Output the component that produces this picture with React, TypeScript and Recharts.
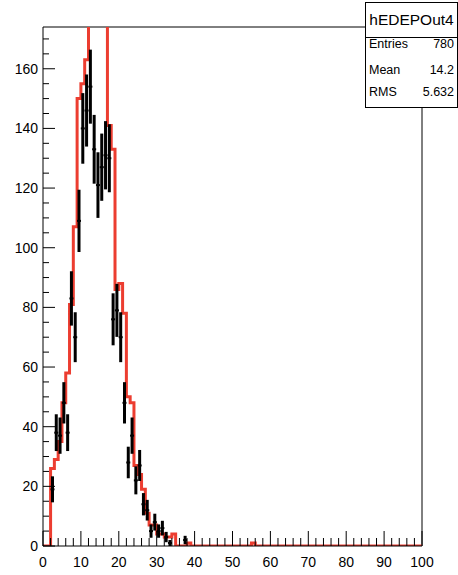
import {
  ComposedChart,
  Line,
  Scatter,
  ErrorBar,
  XAxis,
  YAxis,
  ReferenceLine,
} from "recharts";

// bin contents, 100 bins of width 1 from 0 to 100
const mcCounts = [
  0, 0, 26, 29, 35, 48, 58, 81, 107, 150,
  155, 163, 182, 196, 190, 186, 179, 141, 133, 86,
  88, 78, 50, 48, 27, 24, 19, 11, 7, 7,
  4, 4, 3, 3, 4, 0, 0, 0, 1, 0,
  0, 0, 0, 0, 0, 0, 0, 0, 0, 0,
  0, 0, 0, 0, 0, 1, 0, 0, 0, 0,
  0, 0, 0, 0, 0, 0, 0, 0, 0, 0,
  0, 0, 0, 0, 0, 0, 0, 0, 0, 0,
  0, 0, 0, 0, 0, 0, 0, 0, 0, 0,
  0, 0, 0, 0, 0, 0, 0, 0, 0, 0,
];

const dataCounts = [
  0, 0, 19, 38, 37, 48, 38, 83, 70, 109,
  140, 146, 154, 133, 121, 127, 131, 130, 76, 79,
  70, 48, 28, 37, 22, 27, 14, 12, 5, 8,
  5, 6, 3, 1, 0, 0, 0, 2, 0, 0,
  0, 0, 0, 0, 0, 0, 0, 0, 0, 0,
  0, 0, 0, 0, 0, 0, 0, 0, 0, 0,
  0, 0, 0, 0, 0, 0, 0, 0, 0, 0,
  0, 0, 0, 0, 0, 0, 0, 0, 0, 0,
  0, 0, 0, 0, 0, 0, 0, 0, 0, 0,
  0, 0, 0, 0, 0, 0, 0, 0, 0, 0,
];

const xTicks = [
  0, 2, 4, 6, 8, 10, 12, 14, 16, 18, 20, 22, 24, 26, 28, 30, 32, 34, 36, 38,
  40, 42, 44, 46, 48, 50, 52, 54, 56, 58, 60, 62, 64, 66, 68, 70, 72, 74, 76,
  78, 80, 82, 84, 86, 88, 90, 92, 94, 96, 98, 100,
];
const yTicks = [
  0, 5, 10, 15, 20, 25, 30, 35, 40, 45, 50, 55, 60, 65, 70, 75, 80, 85, 90,
  95, 100, 105, 110, 115, 120, 125, 130, 135, 140, 145, 150, 155, 160, 165, 170,
];

const statsTitle = "hEDEPOut4";
const statsRows = [
  ["Entries", "780"],
  ["Mean", "14.2"],
  ["RMS", "5.632"],
];

const RED = "#ec3d30";
const FONT = '"Liberation Sans", Arial, Helvetica, sans-serif';

// step outline: one point per lower bin edge, plus the closing edge at 100
const mcPoints = mcCounts
  .map((v, i) => ({ x: i, mc: v }))
  .concat([{ x: 100, mc: mcCounts[mcCounts.length - 1] }]);

// data points at bin centres, poisson errors
const dataPoints = dataCounts
  .map((v, i) => ({ x: i + 0.5, y: v, err: Math.sqrt(v) }))
  .filter((p) => p.y > 0);

function YTick(props: any) {
  const { x, y, payload } = props;
  const v = payload.value;
  const major = v % 20 === 0;
  const ax = x + 5;
  return (
    <g>
      <line x1={ax} x2={ax + (major ? 12 : 6)} y1={y} y2={y} stroke="#000" strokeWidth={1} />
      {major && (
        <text x={x} y={y} dy={5} textAnchor="end" fontSize={14} fontFamily={FONT} fill="#000">
          {v}
        </text>
      )}
    </g>
  );
}

function XTick(props: any) {
  const { x, y, payload } = props;
  const v = payload.value;
  const major = v % 10 === 0;
  const ay = y - 4;
  return (
    <g>
      <line x1={x} x2={x} y1={ay} y2={ay - (major ? 15 : 8)} stroke="#000" strokeWidth={1} />
      {major && (
        <text x={x} y={ay + 21} textAnchor="middle" fontSize={14} fontFamily={FONT} fill="#000">
          {v}
        </text>
      )}
    </g>
  );
}

function StatsBox() {
  const rowCenters = [44, 69.5, 92];
  return (
    <div
      style={{
        position: "absolute",
        left: 365,
        top: 2,
        width: 91,
        height: 104,
        border: "1px solid #000",
        background: "#fff",
        fontFamily: FONT,
        color: "#000",
      }}
    >
      <div
        style={{
          height: 34,
          borderBottom: "1px solid #000",
          fontSize: 15.5,
          lineHeight: "34px",
          textAlign: "center",
        }}
      >
        {statsTitle}
      </div>
      {statsRows.map(([label, value], i) => (
        <div
          key={label}
          style={{
            position: "absolute",
            left: 3,
            right: 3,
            top: rowCenters[i] - 3 - 7,
            height: 14,
            lineHeight: "14px",
            fontSize: 12.5,
            display: "flex",
            justifyContent: "space-between",
          }}
        >
          <span>{label}</span>
          <span>{value}</span>
        </div>
      ))}
    </div>
  );
}

export default function App() {
  return (
    <div style={{ position: "relative", width: 458, height: 575, background: "#fff" }}>
      <style>{`body{margin:0}`}</style>
      <ComposedChart width={458} height={575} margin={{ top: 27, right: 36, bottom: 0, left: 0 }}>
        <XAxis
          dataKey="x"
          type="number"
          domain={[0, 100]}
          ticks={xTicks}
          interval={0}
          tickSize={0}
          tickMargin={4}
          height={29}
          axisLine={{ stroke: "#000", strokeWidth: 1 }}
          tickLine={false}
          tick={<XTick />}
        />
        <YAxis
          type="number"
          domain={[0, 174]}
          allowDataOverflow
          ticks={yTicks}
          interval={0}
          tickSize={0}
          tickMargin={5}
          width={43}
          axisLine={{ stroke: "#000", strokeWidth: 1 }}
          tickLine={false}
          tick={<YTick />}
        />
        <ReferenceLine y={174} stroke="#000" strokeWidth={1} />
        <ReferenceLine x={100} stroke="#000" strokeWidth={1} />
        <Line
          data={mcPoints}
          dataKey="mc"
          type="stepAfter"
          stroke={RED}
          strokeWidth={3}
          dot={false}
          activeDot={false}
          isAnimationActive={false}
        />
        <Scatter
          data={dataPoints}
          dataKey="y"
          isAnimationActive={false}
          shape={(p: any) => <rect x={p.cx - 2} y={p.cy - 1} width={4} height={2} fill="#000" />}
        >
          <ErrorBar dataKey="err" direction="y" width={0} stroke="#000" strokeWidth={3} isAnimationActive={false} />
        </Scatter>
      </ComposedChart>
      <StatsBox />
    </div>
  );
}
